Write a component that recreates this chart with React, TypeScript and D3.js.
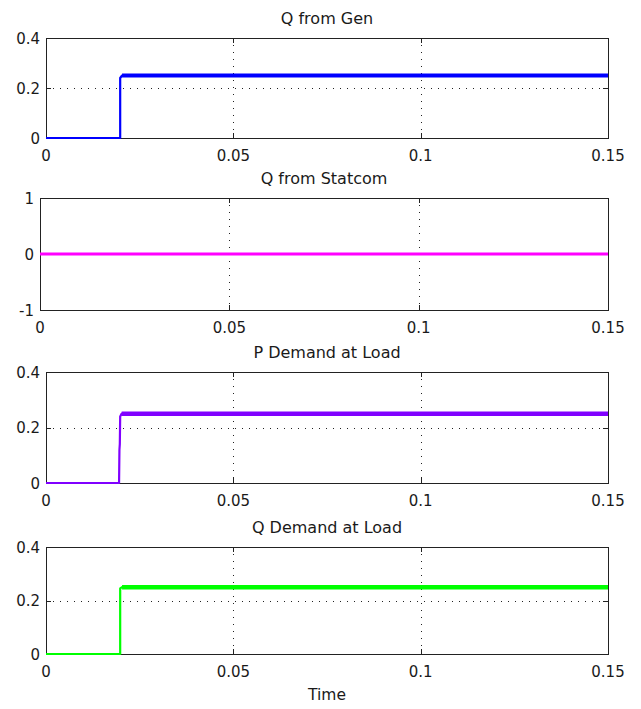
import React from "react";
import * as d3 from "d3";

// Simulation results: time (s) and per-unit quantities
const timeGen = [0, 0.0198, 0.0198, 0.0203, 0.15];
const qFromGen = [0, 0, 0.24, 0.25, 0.25];

const timeStatcom = [0, 0.15];
const qFromStatcom = [0, 0];

const timePLoad = [0, 0.0195, 0.0196, 0.0197, 0.0198, 0.0202, 0.15];
const pDemandLoad = [0, 0, 0.12, 0.14, 0.24, 0.25, 0.25];

const timeQLoad = [0, 0.0198, 0.0198, 0.0203, 0.15];
const qDemandLoad = [0, 0, 0.245, 0.25, 0.25];

const titles = ["Q from Gen", "Q from Statcom", "P Demand at Load", "Q Demand at Load"];
const xTicks = [0, 0.05, 0.1, 0.15];
const xTickLabels = ["0", "0.05", "0.1", "0.15"];
const yTicksPower = [0, 0.2, 0.4];
const yTickLabelsPower = ["0", "0.2", "0.4"];
const yTicksStatcom = [-1, 0, 1];
const yTickLabelsStatcom = ["-1", "0", "1"];
const xLabel = "Time";

const FONT = "'DejaVu Sans', Verdana, sans-serif";
const TEXT = "#1a1a1a";

type Panel = {
  title: string;
  top: number;
  bottom: number;
  left: number;
  t: number[];
  v: number[];
  domain: [number, number];
  ticks: number[];
  tickLabels: string[];
  color: string;
  steadyWidth: number;
};

const RIGHT = 608;

const panels: Panel[] = [
  { title: titles[0], top: 38, bottom: 138, left: 46, t: timeGen, v: qFromGen, domain: [0, 0.4], ticks: yTicksPower, tickLabels: yTickLabelsPower, color: "#0000ff", steadyWidth: 4 },
  { title: titles[1], top: 198, bottom: 310, left: 40, t: timeStatcom, v: qFromStatcom, domain: [-1, 1], ticks: yTicksStatcom, tickLabels: yTickLabelsStatcom, color: "#ff00ff", steadyWidth: 3 },
  { title: titles[2], top: 372, bottom: 483, left: 46, t: timePLoad, v: pDemandLoad, domain: [0, 0.4], ticks: yTicksPower, tickLabels: yTickLabelsPower, color: "#8000ff", steadyWidth: 4.5 },
  { title: titles[3], top: 547, bottom: 654, left: 46, t: timeQLoad, v: qDemandLoad, domain: [0, 0.4], ticks: yTicksPower, tickLabels: yTickLabelsPower, color: "#00ff00", steadyWidth: 4.5 },
];

function PanelView({ p, isLast }: { p: Panel; isLast: boolean }) {
  const x = d3.scaleLinear().domain([0, 0.15]).range([p.left, RIGHT]);
  const y = d3.scaleLinear().domain(p.domain).range([p.bottom, p.top]);
  const pts: [number, number][] = p.t.map((t, i) => [t, p.v[i]]);
  const line = d3
    .line<[number, number]>()
    .x((d) => x(d[0]))
    .y((d) => y(d[1]));
  const maxV = d3.max(p.v) as number;
  const firstSteady = p.v.findIndex((v) => v === maxV);
  const steady = pts.slice(firstSteady);
  const h = (n: number) => Math.round(n) + 0.5;
  const innerX = xTicks.slice(1, -1);
  const innerY = p.ticks.slice(1, -1);

  return (
    <g>
      <text x={(p.left + RIGHT) / 2} y={p.top - 14.5} textAnchor="middle" fontFamily={FONT} fontSize={16} fill={TEXT}>
        {p.title}
      </text>
      {/* grid */}
      {innerX.map((t) => (
        <line key={"gx" + t} x1={h(x(t))} x2={h(x(t))} y1={p.top} y2={p.bottom} stroke="#222" strokeWidth={1} strokeDasharray="1,6" />
      ))}
      {innerY.map((v) => (
        <line key={"gy" + v} x1={p.left} x2={RIGHT} y1={h(y(v))} y2={h(y(v))} stroke="#222" strokeWidth={1} strokeDasharray="1,6" />
      ))}
      {/* box */}
      <rect x={h(p.left)} y={h(p.top)} width={RIGHT - p.left} height={p.bottom - p.top} fill="none" stroke="#222" strokeWidth={1} />
      {/* ticks */}
      {xTicks.map((t) => (
        <g key={"tx" + t}>
          <line x1={h(x(t))} x2={h(x(t))} y1={p.bottom} y2={p.bottom - 5} stroke="#222" />
          <line x1={h(x(t))} x2={h(x(t))} y1={p.top} y2={p.top + 5} stroke="#222" />
        </g>
      ))}
      {p.ticks.map((v) => (
        <g key={"ty" + v}>
          <line x1={p.left} x2={p.left + 5} y1={h(y(v))} y2={h(y(v))} stroke="#222" />
          <line x1={RIGHT} x2={RIGHT - 5} y1={h(y(v))} y2={h(y(v))} stroke="#222" />
        </g>
      ))}
      {/* tick labels */}
      {xTicks.map((t, i) => (
        <text key={"lx" + t} x={x(t)} y={p.bottom + 22.5} textAnchor="middle" fontFamily={FONT} fontSize={15} fill={TEXT}>
          {xTickLabels[i]}
        </text>
      ))}
      {p.ticks.map((v, i) => (
        <text key={"ly" + v} x={p.left - 6} y={y(v) + 5.5} textAnchor="end" fontFamily={FONT} fontSize={15} fill={TEXT}>
          {p.tickLabels[i]}
        </text>
      ))}
      {/* data */}
      <path d={line(pts) || ""} fill="none" stroke={p.color} strokeWidth={2.2} strokeLinejoin="round" />
      <path d={line(steady) || ""} fill="none" stroke={p.color} strokeWidth={p.steadyWidth} />
      {isLast && (
        <text x={(p.left + RIGHT) / 2} y={p.bottom + 46} textAnchor="middle" fontFamily={FONT} fontSize={15.5} fill={TEXT}>
          {xLabel}
        </text>
      )}
    </g>
  );
}

export default function App() {
  return (
    <svg width={641} height={709} style={{ position: "absolute", left: 0, top: 0, background: "#fff" }}>
      <rect x={0} y={0} width={641} height={709} fill="#fff" />
      {panels.map((p, i) => (
        <PanelView key={p.title} p={p} isLast={i === panels.length - 1} />
      ))}
    </svg>
  );
}
